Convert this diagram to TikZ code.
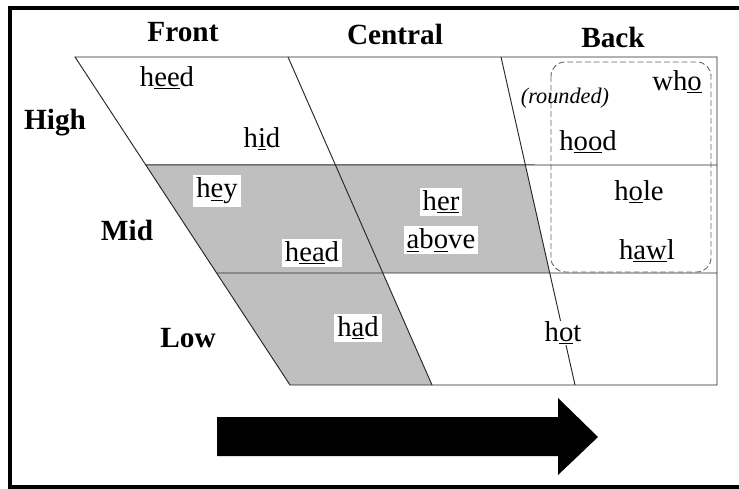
\documentclass[tikz,border=0pt]{standalone}
\usepackage{fontspec}
\setmainfont{Liberation Serif}
\usetikzlibrary{positioning, calc}

\tikzset{
  colhead/.style={font=\fontsize{25}{28}\selectfont\bfseries, inner sep=0pt},
  word/.style={font=\fontsize{24.5}{28}\selectfont, inner sep=2.5pt},
  boxword/.style={word, fill=white},
  grid/.style={line width=0.8pt, draw=black!85},
}

\begin{document}
\begin{tikzpicture}[x=0.03cm, y=-0.03cm]
\useasboundingbox (0,0) rectangle (739,489);
% outer frame, right side cut off
\draw[line width=2.6pt] (739,8) -- (10,8) -- (10,487) -- (739,487);

% corners of the chart
\coordinate (tl) at (75,57);
\coordinate (bl) at (290,385);
\coordinate (tfc) at (288,57);
\coordinate (bfc) at (432,385);
\coordinate (tcb) at (501,57);
\coordinate (bcb) at (575,385);
\coordinate (tr) at (717,57);
\coordinate (br) at (717,385);

% grey bands
\fill[black!25] ($(tl)!0.329!(bl)$) -- ($(tcb)!0.329!(bcb)$) -- ($(tcb)!0.6585!(bcb)$) -- ($(tl)!0.6585!(bl)$) -- cycle;
\fill[black!25] ($(tl)!0.6585!(bl)$) -- ($(tfc)!0.6585!(bfc)$) -- (bfc) -- (bl) -- cycle;

% outline and lines
\draw[grid] (tl) -- (tr) -- (br) -- (bl) -- cycle;
\draw[grid] (tfc) -- (bfc);
\draw[grid] (tcb) -- (bcb);
\draw[grid] ($(tl)!0.329!(bl)$) -- (717,165);
\draw[grid] ($(tl)!0.6585!(bl)$) -- (717,273);

% rounded vowels
\draw[black!60, line width=0.8pt, dash pattern=on 5pt off 2.5pt, rounded corners=12pt] (551,62) rectangle (711,272);

% column and row heads
\node[colhead] (front) at (183,32) {Front};
\node[colhead] (central) at (395,34) {Central};
\node[colhead] (back) at (613,37) {Back};
\node[colhead] (high) at (55,123) {High};
\node[colhead] (mid) at (127,230) {Mid};
\node[colhead] (low) at (188,338) {Low};

% words
\node[word] (heed) at (167,78) {h\underline{ee}d};
\node[word] (hid) at (262,139) {h\underline{i}d};
\node[boxword] (hey) at (217,191) {h\underline{e}y};
\node[boxword] (head) at (312,253) {h\underline{ea}d};
\node[boxword] (her) at (441,202) {h\underline{er}};
\node[boxword, below=8pt of her] (above) {\underline{a}b\underline{o}ve};
\node[boxword] (had) at (358,328) {h\underline{a}d};
\node[boxword, inner sep=1pt] (hot) at (563,333) {h\underline{o}t};
\node[word] (who) at (677,82) {wh\underline{o}};
\node[font=\fontsize{19}{22}\selectfont\itshape, inner sep=0pt] (rnd) at (565,98) {(rounded)};
\node[word] (hood) at (588,142) {h\underline{oo}d};
\node[word] (hole) at (639,192) {h\underline{o}le};
\node[word] (hawl) at (647,251) {h\underline{aw}l};

% big arrow
\fill[black] (217,417) -- (558,417) -- (558,398) -- (598,437) -- (558,475) -- (558,456) -- (217,456) -- cycle;
\end{tikzpicture}
\end{document}
